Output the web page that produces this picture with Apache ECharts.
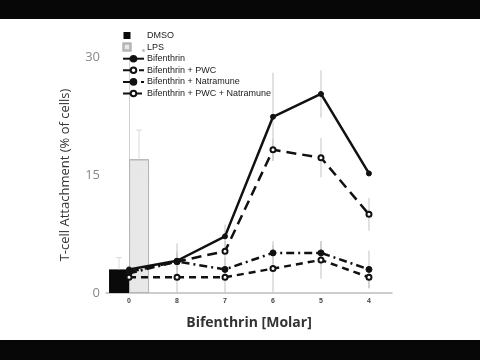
<!DOCTYPE html>
<html>
<head>
<meta charset="utf-8">
<script src="https://cdn.jsdelivr.net/npm/echarts@6/dist/echarts.min.js"></script>
<style>
html,body{margin:0;padding:0;background:#fff;}
#chart{width:480px;height:360px;}
</style>
</head>
<body>
<div id="chart"></div>
<script>
// ---- data ----
const categories = ['0', '8', '7', '6', '5', '4'];
const yTicks = [0, 15, 30];

const barNames = ['DMSO', 'LPS'];
const barValues = [3.0, 17.0];
const barErrors = [1.5, 3.7];

const seriesNames = ['Bifenthrin', 'Bifenthrin + PWC', 'Bifenthrin + Natramune', 'Bifenthrin + PWC + Natramune'];
const bifenthrin       = [3.0, 4.1, 7.2, 22.4, 25.3, 15.2];
const bifenthrinPWC    = [2.7, 4.0, 5.3, 18.2, 17.2, 10.0];
const bifenthrinNat    = [2.5, 4.0, 3.0, 5.1, 5.1, 3.0];
const bifenthrinPWCNat = [2.0, 2.0, 2.0, 3.1, 4.2, 2.0];

const bifenthrinErr       = [0, 1.2, 1.5, 5.6, 3.0, 0.4];
const bifenthrinPWCErr    = [0, 1.0, 1.3, 1.4, 2.5, 2.1];
const bifenthrinNatErr    = [0, 2.3, 1.5, 1.5, 1.5, 2.4];
const bifenthrinPWCNatErr = [0, 2.0, 2.0, 3.0, 2.4, 1.4];

// ---- build ----
const lineData = [bifenthrin, bifenthrinPWC, bifenthrinNat, bifenthrinPWCNat];
const lineErr = [bifenthrinErr, bifenthrinPWCErr, bifenthrinNatErr, bifenthrinPWCNatErr];
const toPoints = arr => arr.map((v, i) => [i, v]);

const errRows = [];
lineData.forEach((arr, s) => arr.forEach((v, i) => {
  const e = lineErr[s][i];
  if (e > 0) errRows.push([i, Math.max(0, v - e), v + e]);
}));
const barErrRows = barValues.map((v, k) => [0, v, v + barErrors[k], k]);

const BAR_W = 20;
const dark = '#111';

const lineStyles = [
  {type: 'solid', symbol: 'circle', size: 5},
  {type: [10, 6], symbol: 'emptyCircle', size: 5},
  {type: [8, 4, 2, 4], symbol: 'circle', size: 6},
  {type: [7, 5], symbol: 'emptyCircle', size: 5}
];

const chart = echarts.init(document.getElementById('chart'), null, {renderer: 'canvas'});

const series = [];
barNames.forEach((n, k) => {
  series.push({
    name: n,
    type: 'bar',
    data: [[0, barValues[k]]],
    barWidth: BAR_W,
    barGap: '0%',
    z: 1,
    itemStyle: k === 0
      ? {color: '#0a0a0a'}
      : {color: '#e9e9e9', borderColor: '#b5b5b5', borderWidth: 1,
         decal: {symbol: 'rect', symbolSize: 0.5, dashArrayX: [1, 1], dashArrayY: [1, 1], color: 'rgba(180,180,180,0.35)', rotation: 0.78}}
  });
});

series.push({
  name: 'errors',
  type: 'custom',
  z: 2,
  silent: true,
  data: errRows,
  renderItem: function (params, api) {
    const p1 = api.coord([api.value(0), api.value(1)]);
    const p2 = api.coord([api.value(0), api.value(2)]);
    return {type: 'line', shape: {x1: p1[0], y1: p1[1], x2: p2[0], y2: p2[1]},
            style: {stroke: '#c4c4c4', lineWidth: 1}};
  }
});
series.push({
  name: 'barErrors',
  type: 'custom',
  z: 2,
  silent: true,
  data: barErrRows,
  renderItem: function (params, api) {
    const off = (api.value(3) === 0 ? -1 : 1) * BAR_W / 2;
    const p1 = api.coord([api.value(0), api.value(1)]);
    const p2 = api.coord([api.value(0), api.value(2)]);
    return {type: 'group', children: [
      {type: 'line', shape: {x1: p1[0] + off, y1: p1[1], x2: p2[0] + off, y2: p2[1]},
       style: {stroke: '#dadada', lineWidth: 1}},
      {type: 'line', shape: {x1: p2[0] + off - 3, y1: p2[1], x2: p2[0] + off + 3, y2: p2[1]},
       style: {stroke: '#dadada', lineWidth: 1}}
    ]};
  }
});

seriesNames.forEach((n, s) => {
  const st = lineStyles[s];
  series.push({
    name: n,
    type: 'line',
    data: toPoints(lineData[s]),
    z: 3,
    symbol: st.symbol,
    symbolSize: st.size,
    showAllSymbol: true,
    lineStyle: {color: dark, width: 2.5, type: st.type},
    itemStyle: {color: dark, borderColor: dark, borderWidth: 1}
  });
});

const squareIcon = 'path://M0,0h7v7h-7zM20,7h0.01v-0.01h-0.01z';

chart.setOption({
  animation: false,
  backgroundColor: '#fff',
  grid: {left: 106, right: 88, top: 57, bottom: 67},
  legend: {
    orient: 'vertical',
    left: 117,
    top: 26,
    itemWidth: 21,
    itemHeight: 7,
    itemGap: 2.6,
    textStyle: {fontSize: 9, color: '#1a1a1a', fontFamily: 'Liberation Sans', padding: [0, 0, 0, -2]},
    data: [
      {name: 'DMSO', icon: squareIcon},
      {name: 'LPS', icon: squareIcon},
      seriesNames[0], seriesNames[1], seriesNames[2], seriesNames[3]
    ]
  },
  xAxis: {
    type: 'value',
    min: -0.48,
    max: 5.48,
    axisLine: {show: true, lineStyle: {color: '#bdbdbd', width: 1.5}},
    axisTick: {show: false},
    splitLine: {show: false},
    axisLabel: {
      customValues: categories.map((c, i) => i),
      formatter: v => categories[Math.round(v)] ?? '',
      fontSize: 7, fontWeight: 'bold', color: '#444', margin: 5, fontFamily: 'Liberation Sans'
    },
    name: 'Bifenthrin [Molar]',
    nameLocation: 'middle',
    nameGap: 23,
    nameTextStyle: {fontSize: 14, fontWeight: 'bold', color: '#333', fontFamily: 'Open Sans'}
  },
  yAxis: {
    type: 'value',
    min: yTicks[0],
    max: yTicks[yTicks.length - 1],
    interval: yTicks[1] - yTicks[0],
    axisLine: {show: true, lineStyle: {color: '#d0d0d0', width: 1}},
    axisTick: {show: false},
    splitLine: {show: false},
    axisLabel: {fontSize: 13, color: '#888', margin: 6, fontFamily: 'Open Sans'},
    name: 'T-cell Attachment (% of cells)',
    nameLocation: 'middle',
    nameRotate: 90,
    nameGap: 34,
    nameTextStyle: {fontSize: 13, color: '#333', fontFamily: 'Open Sans'}
  },
  graphic: [
    {type: 'rect', left: 0, top: 0, shape: {width: 480, height: 19}, style: {fill: '#070707'}, z: 100},
    {type: 'rect', left: 0, top: 340, shape: {width: 480, height: 20}, style: {fill: '#070707'}, z: 100}
  ],
  series: series
});
</script>
</body>
</html>
